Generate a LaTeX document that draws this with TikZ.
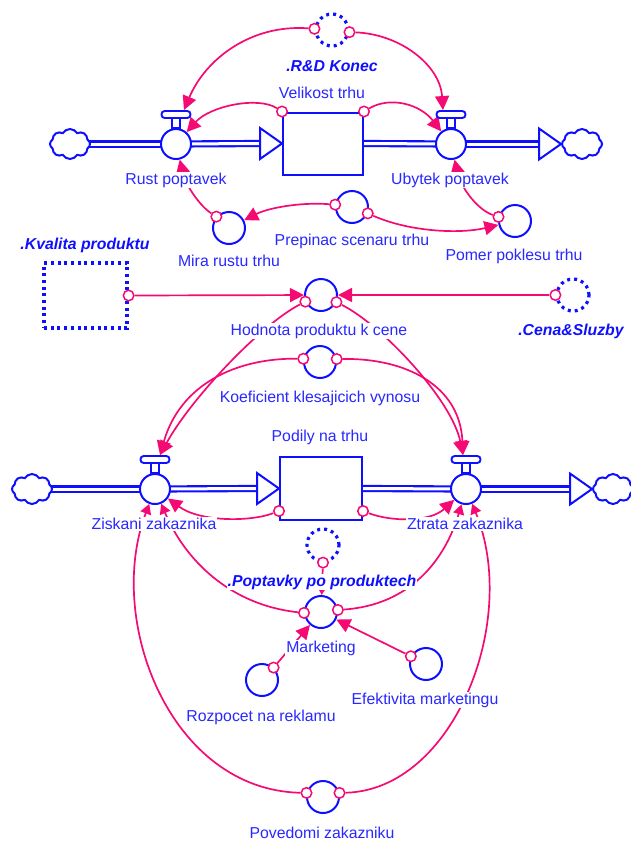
\documentclass[tikz,border=0pt]{standalone}
\usepackage{fontspec}
\setmainfont{Liberation Sans}
\usetikzlibrary{arrows.meta,shapes.symbols,calc}
\definecolor{sdblue}{RGB}{15,15,255}
\definecolor{sdtext}{RGB}{40,40,255}
\definecolor{sdpink}{RGB}{245,10,115}
\pgfdeclarelayer{links}
\pgfdeclarelayer{pipes}
\pgfsetlayers{links,pipes,main}
\tikzset{
  pipe/.style={draw=sdblue, line width=2.1pt, double=white, double distance=3pt},
  pipetip/.style={draw=sdblue, line width=2pt, fill=white, line join=miter},
  valve/.style={circle, draw=sdblue, fill=white, line width=2pt, minimum size=30pt, inner sep=0pt},
  handle/.style={rectangle, rounded corners=3.2pt, draw=sdblue, fill=white, line width=1.9pt,
                 minimum width=29pt, minimum height=7pt, inner sep=0pt},
  stemline/.style={draw=sdblue, fill=white, line width=1.9pt},
  stock/.style={rectangle, draw=sdblue, fill=white, line width=2pt, inner sep=0pt},
  aux/.style={circle, draw=sdblue, line width=2pt, minimum size=32pt, inner sep=0pt},
  ghost/.style={circle, draw=sdblue, line width=3.2pt, dash pattern=on 3pt off 4pt,
                minimum size=32pt, inner sep=0pt},
  ghostbox/.style={rectangle, draw=sdblue, line width=3.2pt, dash pattern=on 3pt off 3.7pt,
                   minimum width=83pt, minimum height=65pt, inner sep=0pt},
  port/.style={circle, draw=sdpink, fill=white, line width=1.5pt, minimum size=10.5pt, inner sep=0pt},
  infolink/.style={draw=sdpink, line width=1.7pt, -{Triangle[length=14pt,width=14pt]}},
  smalllink/.style={draw=sdpink, line width=1.7pt, -{Triangle[length=10pt,width=11pt]}},
  lbl/.style={text=sdtext, fill=white, inner sep=1pt, font=\fontsize{15.8}{18}\selectfont},
  glbl/.style={lbl, text=sdblue, font=\fontsize{15.8}{18}\selectfont\bfseries\itshape},
  sky/.style={cloud, cloud puffs=8, cloud puff arc=120, aspect=1.35, draw=sdblue, fill=white,
              line width=2pt, minimum width=40pt, minimum height=30pt, inner sep=0pt}
}
\begin{document}
\begin{tikzpicture}[x=1pt,y=-1pt]
\useasboundingbox (0,0) rectangle (630,841);

% ---------- market size chain ----------
\node[sky] (cTL) at (70,144) {};
\node[valve] (vRust) at (176,144) {};
\node[stock, minimum width=80pt, minimum height=62pt] (vel) at (323,143.5) {};
\node[valve] (vUb) at (451,144) {};
\node[sky] (cTR) at (582,144) {};
\draw[stemline] ($(vRust.north)+(-4,0)$) rectangle ($(vRust.north)+(4,-10)$);
\draw[stemline] ($(vUb.north)+(-4,0)$) rectangle ($(vUb.north)+(4,-10)$);
\node[handle] (vRustH) at ($(vRust.north)+(0,-13.5)$) {};
\node[handle] (vUbH) at ($(vUb.north)+(0,-13.5)$) {};

% ---------- market share chain ----------
\node[sky] (cBL) at (32,489) {};
\node[valve] (vZis) at (155,489) {};
\node[stock, minimum width=82pt, minimum height=63pt] (pod) at (321,488.5) {};
\node[valve] (vZtr) at (466,489) {};
\node[sky] (cBR) at (613,489) {};
\draw[stemline] ($(vZis.north)+(-4,0)$) rectangle ($(vZis.north)+(4,-10)$);
\draw[stemline] ($(vZtr.north)+(-4,0)$) rectangle ($(vZtr.north)+(4,-10)$);
\node[handle] (vZisH) at ($(vZis.north)+(0,-13.5)$) {};
\node[handle] (vZtrH) at ($(vZtr.north)+(0,-13.5)$) {};

% ---------- pipes ----------
\begin{pgfonlayer}{pipes}
\draw[pipe] (cTL.center) -- (vRust.center);
\draw[pipe] (vRust.center) -- ($(vel.west)+(-22,0)$);
\draw[pipetip] (vel.west) -- ++(-22,-15.5) -- ++(0,31) -- cycle;
\draw[pipe] (vel.east) -- (vUb.center);
\draw[pipe] (vUb.center) -- ($(cTR.west)+(-22,0)$);
\draw[pipetip] (cTR.west) -- ++(-22,-15.5) -- ++(0,31) -- cycle;
\draw[pipe] (cBL.center) -- (vZis.center);
\draw[pipe] (vZis.center) -- ($(pod.west)+(-22,0)$);
\draw[pipetip] (pod.west) -- ++(-22,-15.5) -- ++(0,31) -- cycle;
\draw[pipe] (pod.east) -- (vZtr.center);
\draw[pipe] (vZtr.center) -- ($(cBR.west)+(-22,0)$);
\draw[pipetip] (cBR.west) -- ++(-22,-15.5) -- ++(0,31) -- cycle;
\end{pgfonlayer}

% ---------- auxiliaries ----------
\node[aux] (mira) at (229,228) {};
\node[aux] (prep) at (352,207) {};
\node[aux] (pomer) at (515,221) {};
\node[aux] (hod) at (321,295) {};
\node[aux] (koef) at (320,362) {};
\node[aux] (mkt) at (321,612) {};
\node[aux] (roz) at (262,680) {};
\node[aux] (efek) at (426,664) {};
\node[aux] (pov) at (323,797) {};

% ---------- shadow variables ----------
\node[ghost] (rd) at (332,30) {};
\node[ghost] (cena) at (573,295) {};
\node[ghost] (popt) at (323,545) {};
\node[ghostbox] (kval) at (85.5,295.5) {};

% ---------- link ports ----------
\node[port] (rdL) at (rd.176) {};
\node[port] (rdR) at (rd.-7) {};
\node[port] (velTL) at (vel.north west) {};
\node[port] (velTR) at (vel.north east) {};
\node[port] (miraP) at (mira.138) {};
\node[port] (prepL) at (prep.172) {};
\node[port] (prepR) at (prep.-22) {};
\node[port] (pomerP) at (pomer.166) {};
\node[port] (kvalP) at (kval.east) {};
\node[port] (hodL) at (hod.203) {};
\node[port] (hodR) at (hod.-25) {};
\node[port] (cenaP) at (cena.180) {};
\node[port] (koefL) at (koef.169) {};
\node[port] (koefR) at (koef.10) {};
\node[port] (podBL) at ($(pod.south west)+(0,-10)$) {};
\node[port] (podBR) at ($(pod.south east)+(0,-10)$) {};
\node[port] (poptP) at (popt.270) {};
\node[port] (mktL) at (mkt.183) {};
\node[port] (mktR) at (mkt.7) {};
\node[port] (rozP) at (roz.47) {};
\node[port] (efekP) at (efek.153) {};
\node[port] (povL) at (pov.166) {};
\node[port] (povR) at (pov.14) {};

% ---------- information links ----------
\begin{pgfonlayer}{links}
\draw[infolink] (rdL) .. controls (250,24) and (205,60) .. ($(vRustH.north)+(8,0)$);
\draw[infolink] (rdR) .. controls (400,34) and (440,65) .. ($(vUbH.north)+(-8,0)$);
\draw[infolink] (velTL) .. controls (258,96) and (210,106) .. (vRust);
\draw[infolink] (velTR) .. controls (390,96) and (420,104) .. (vUb);
\draw[infolink] (miraP) .. controls (200,206) and (186,186) .. (vRust);
\draw[infolink] (pomerP) .. controls (478,210) and (461,188) .. (vUb);
\draw[infolink] (prepL) .. controls (300,202) and (268,208) .. (mira);
\draw[infolink] (prepR) .. controls (410,232) and (460,234) .. (pomer);
\draw[infolink] (kvalP) -- (hod);
\draw[infolink] (cenaP) -- (hod);
\draw[infolink] (hodL) .. controls (260,325) and (190,400) .. ($(vZisH.north)+(5,0)$);
\draw[infolink] (koefL) .. controls (235,358) and (180,385) .. ($(vZisH.north)+(5,0)$);
\draw[infolink] (hodR) .. controls (382,325) and (452,400) .. ($(vZtrH.north)+(-3,0)$);
\draw[infolink] (koefR) .. controls (405,358) and (460,385) .. ($(vZtrH.north)+(-3,0)$);
\draw[infolink] (podBL) .. controls (250,522) and (200,522) .. (vZis);
\draw[infolink] (podBR) .. controls (392,522) and (430,522) .. (vZtr);
\draw[smalllink] (mktL) .. controls (230,605) and (185,560) .. (vZis);
\draw[smalllink] (mktR) .. controls (410,605) and (445,560) .. (vZtr);
\draw[smalllink] (povL) .. controls (170,790) and (105,620) .. (vZis);
\draw[smalllink] (povR) .. controls (454,790) and (520,620) .. (vZtr);
\draw[smalllink] (poptP) -- (mkt);
\draw[infolink] (rozP) -- (mkt);
\draw[infolink] (efekP) -- (mkt);
\end{pgfonlayer}

% ---------- names ----------
\node[glbl] (tRd) at (332,66) {.R\&D Konec};
\node[lbl] (tVel) at (322,93) {Velikost trhu};
\node[lbl] (tRust) at (176,180) {Rust poptavek};
\node[lbl] (tUb) at (450,180) {Ubytek poptavek};
\node[lbl] (tPrep) at (352,241) {Prepinac scenaru trhu};
\node[lbl] (tPomer) at (514,256) {Pomer poklesu trhu};
\node[lbl] (tMira) at (229,261) {Mira rustu trhu};
\node[glbl] (tKval) at (85,245) {.Kvalita produktu};
\node[lbl] (tHod) at (319,331) {Hodnota produktu k cene};
\node[glbl] (tCena) at (571,331) {.Cena\&Sluzby};
\node[lbl] (tKoef) at (320,398) {Koeficient klesajicich vynosu};
\node[lbl] (tPod) at (320,437) {Podily na trhu};
\node[lbl] (tZis) at (154,524) {Ziskani zakaznika};
\node[lbl] (tZtr) at (465,524) {Ztrata zakaznika};
\node[glbl] (tPopt) at (322,582) {.Poptavky po produktech};
\node[lbl] (tMkt) at (321,648) {Marketing};
\node[lbl] (tEfek) at (425,700) {Efektivita marketingu};
\node[lbl] (tRoz) at (261,717) {Rozpocet na reklamu};
\node[lbl] (tPov) at (322,833) {Povedomi zakazniku};
\end{tikzpicture}
\end{document}
